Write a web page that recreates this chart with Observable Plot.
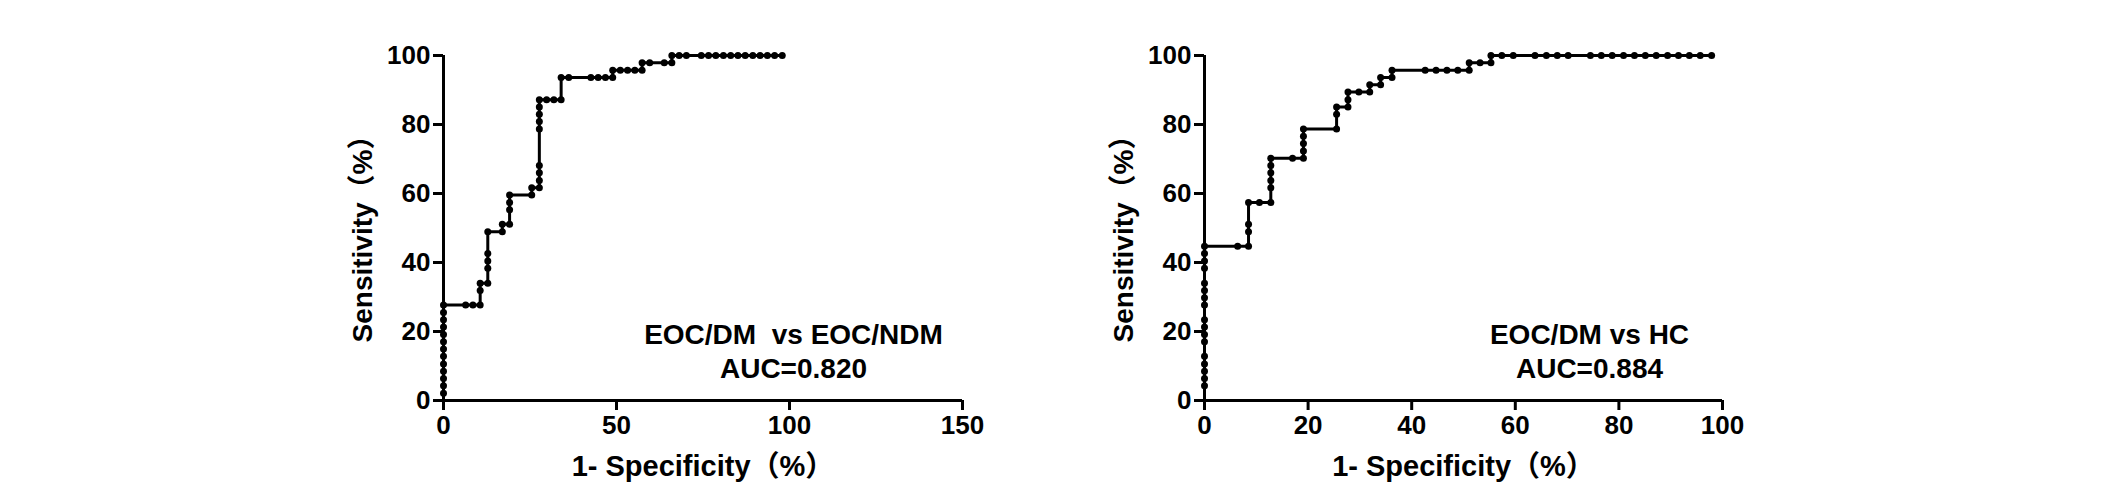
<!DOCTYPE html>
<html>
<head>
<meta charset="utf-8">
<script src="https://cdn.jsdelivr.net/npm/d3@7"></script>
<script src="https://cdn.jsdelivr.net/npm/@observablehq/plot@0.6"></script>
<style>
  html, body { margin: 0; padding: 0; background: #fff; }
  body { width: 2126px; height: 486px; overflow: hidden; position: relative;
         font-family: "Liberation Sans", Arial, "Noto Sans CJK SC", sans-serif; }
  .chart { position: absolute; top: 25px; }
  .chart svg { overflow: visible; }
  .chart svg text { white-space: pre; }
</style>
</head>
<body>
<div id="left" class="chart" style="left:323px"></div>
<div id="right" class="chart" style="left:1084px"></div>
<script>
// ---- Data ----
// Left panel: EOC/DM vs EOC/NDM
const leftFpr = [0,0,0,0,0,0,0,0,0,0,0,0,0,
  6.4,8.5,10.6,10.6,10.6,
  12.8,12.8,12.8,12.8,12.8,
  17.0,17.0,
  19.1,19.1,19.1,19.1,
  25.5,25.5,
  27.7,27.7,27.7,27.7,27.7,27.7,27.7,27.7,27.7,
  29.8,31.9,34.0,34.0,
  36.2,42.6,44.7,46.8,48.9,48.9,
  51.1,53.2,55.3,57.4,57.4,
  59.6,63.8,66.0,66.0,
  68.1,70.2,74.5,76.6,78.7,80.9,83.0,85.1,87.2,89.4,91.5,93.6,95.7,97.9];
const leftSens = [2.1,4.3,6.4,8.5,10.6,12.8,14.9,17.0,19.1,21.3,23.4,25.5,27.7,
  27.7,27.7,27.7,31.9,34.0,
  34.0,38.3,40.4,42.6,48.9,
  48.9,51.1,
  51.1,55.3,57.4,59.6,
  59.6,61.7,
  61.7,63.8,66.0,68.1,78.7,80.9,83.0,85.1,87.2,
  87.2,87.2,87.2,93.6,
  93.6,93.6,93.6,93.6,93.6,95.7,
  95.7,95.7,95.7,95.7,97.9,
  97.9,97.9,97.9,100,
  100,100,100,100,100,100,100,100,100,100,100,100,100,100];

// Right panel: EOC/DM vs HC
const rightFpr = [0,0,0,0,0,0,0,0,0,0,0,0,0,0,0,0,0,
  6.4,8.5,8.5,8.5,8.5,
  10.6,12.8,12.8,12.8,12.8,12.8,12.8,
  17.0,19.1,19.1,19.1,19.1,19.1,
  25.5,25.5,25.5,
  27.7,27.7,27.7,
  29.8,31.9,31.9,
  34.0,34.0,
  36.2,36.2,
  42.6,44.7,46.8,48.9,51.1,51.1,
  53.2,55.3,55.3,
  57.4,59.6,63.8,66.0,68.1,70.2,74.5,76.6,78.7,80.9,83.0,85.1,87.2,89.4,91.5,93.6,95.7,97.9];
const rightSens = [4.3,6.4,8.5,10.6,12.8,17.0,19.1,21.3,23.4,27.7,29.8,31.9,34.0,38.3,40.4,42.6,44.7,
  44.7,44.7,48.9,51.1,57.4,
  57.4,57.4,61.7,63.8,66.0,68.1,70.2,
  70.2,70.2,72.3,74.5,76.6,78.7,
  78.7,83.0,85.1,
  85.1,87.2,89.4,
  89.4,89.4,91.5,
  91.5,93.6,
  93.6,95.7,
  95.7,95.7,95.7,95.7,95.7,97.9,
  97.9,97.9,100,
  100,100,100,100,100,100,100,100,100,100,100,100,100,100,100,100,100,100];

// Axes and labels
const leftXTicks = [0, 50, 100, 150];
const rightXTicks = [0, 20, 40, 60, 80, 100];
const yTicks = [0, 20, 40, 60, 80, 100];
const xTitle = "1- Specificity（%）";
const yTitle = "Sensitivity（%）";
const leftNote = "EOC/DM  vs EOC/NDM\nAUC=0.820";
const rightNote = "EOC/DM vs HC\nAUC=0.884";

const FONT = '"Liberation Sans", Arial, "Noto Sans CJK SC", sans-serif';

function roc(fpr, sens, xMax, xTicks, note, frameW, noteDx) {
  const data = fpr.map((x, i) => ({x, y: sens[i]}));
  return Plot.plot({
    width: 120 + frameW + 41,
    height: 461,
    marginLeft: 120, marginRight: 41, marginTop: 30, marginBottom: 86,
    x: {domain: [0, xMax]},
    y: {domain: [0, 100]},
    style: {fontFamily: FONT, fontWeight: "bold", color: "black", background: "white", overflow: "visible"},
    marks: [
      Plot.axisX(xTicks, {tickSize: 10, tickPadding: 5, strokeWidth: 3, fontSize: 26, fontWeight: "bold", label: null}),
      Plot.axisY(yTicks, {tickSize: 10, tickPadding: 3, strokeWidth: 3, fontSize: 26, fontWeight: "bold", label: null}),
      Plot.ruleY([0], {strokeWidth: 3, stroke: "black"}),
      Plot.ruleX([0], {strokeWidth: 3, stroke: "black"}),
      Plot.line(data, {x: "x", y: "y", stroke: "black", strokeWidth: 3}),
      Plot.dot(data, {x: "x", y: "y", r: 3.5, fill: "black", stroke: null}),
      Plot.text([xTitle], {frameAnchor: "bottom", textAnchor: "middle", lineAnchor: "middle", dx: 0, dy: 66,
                           fontSize: 29, fontWeight: "bold", fill: "black"}),
      Plot.text([yTitle], {frameAnchor: "left", textAnchor: "middle", lineAnchor: "middle", rotate: -90, dx: -80, dy: 4,
                           fontSize: 28, fontWeight: "bold", fill: "black"}),
      Plot.text([note], {frameAnchor: "bottom-right", textAnchor: "middle", lineAnchor: "middle", dx: noteDx, dy: -50.5,
                         lineHeight: 1.22, fontSize: 28, fontWeight: "bold", fill: "black"})
    ]
  });
}

document.getElementById("left").appendChild(roc(leftFpr, leftSens, 150, leftXTicks, leftNote, 519, -169));
document.getElementById("right").appendChild(roc(rightFpr, rightSens, 100, rightXTicks, rightNote, 518, -133));
</script>
</body>
</html>
